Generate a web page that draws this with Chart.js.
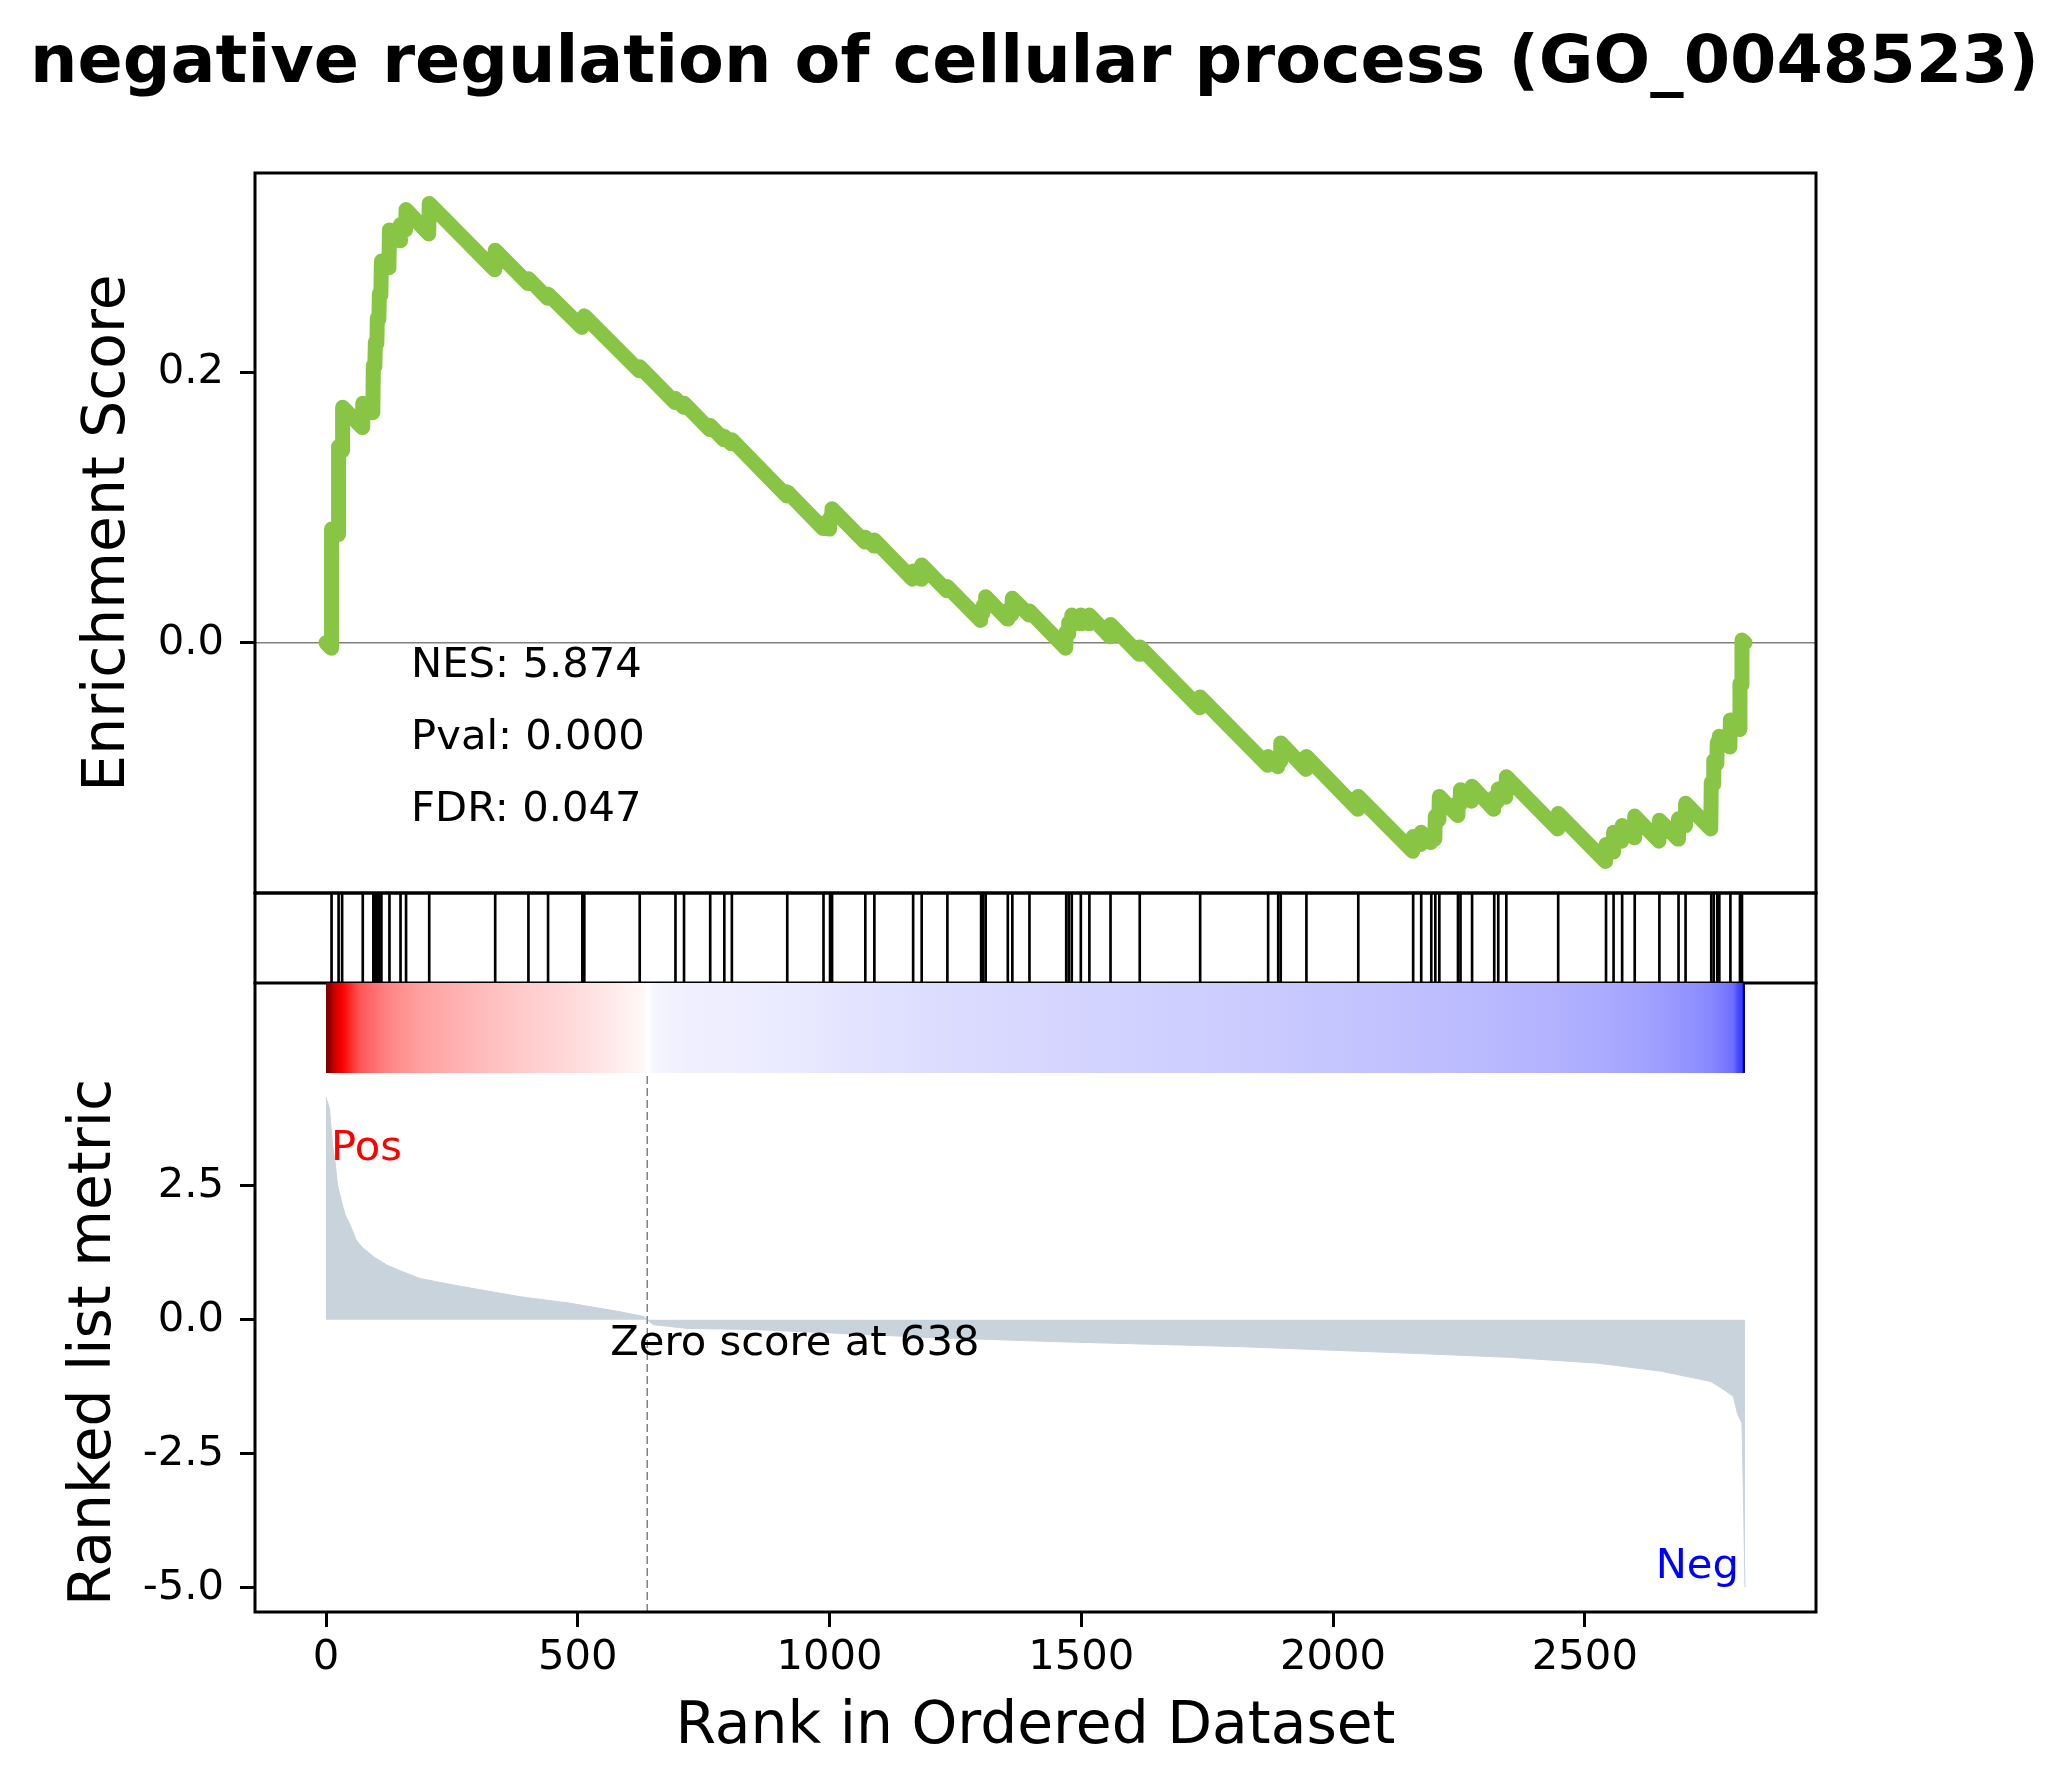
<!DOCTYPE html>
<html>
<head>
<meta charset="utf-8">
<title>GSEA enrichment plot</title>
<script src="https://cdn.jsdelivr.net/npm/chart.js@4.4.1/dist/chart.umd.min.js"></script>
<style>
  html, body { margin: 0; padding: 0; background: #fff; }
  #page { position: relative; width: 2069px; height: 1786px; overflow: hidden; background: #fff; }
  #page canvas { position: absolute; left: 0; }
</style>
</head>
<body>
<div id="page">
  <canvas id="esChart" width="2069" height="940" style="top:0px"></canvas>
  <canvas id="hitChart" width="2069" height="115" style="top:880px"></canvas>
  <canvas id="rankChart" width="2069" height="816" style="top:970px"></canvas>
</div>
<script>
// Values

const titleText = 'negative regulation of cellular process (GO_0048523)';
const xTicks = [0, 500, 1000, 1500, 2000, 2500];
const esTicks = [0.0, 0.2];
const metricTicks = [2.5, 0.0, -2.5, -5.0];
const statLabels = ['NES: 5.874', 'Pval: 0.000', 'FDR: 0.047'];
const zeroScoreRank = 638;

// axis limits (matplotlib 5% margins)
const xLimits = [-141, 2959];
const esLimits = [-0.1848, 0.347];
const metricLimits = [-5.45, 4.604];

// ranks of the gene set members (hit strip)
const hitRanks = [
  11, 25, 32, 73, 94, 98, 102, 106, 110, 126, 148, 159, 205, 336, 402, 441,
  509, 513, 623, 694, 711, 763, 791, 806, 916, 988, 1001, 1005, 1071, 1089,
  1166, 1183, 1234, 1301, 1305, 1310, 1354, 1363, 1397, 1470, 1475, 1481,
  1499, 1516, 1558, 1616, 1736, 1871, 1891, 1896, 1947, 2050, 2159, 2175,
  2195, 2203, 2211, 2248, 2253, 2276, 2320, 2328, 2344, 2447, 2542, 2557,
  2574, 2599, 2648, 2686, 2700, 2751, 2756, 2763, 2767, 2789, 2808, 2812
];

// running enrichment score: [rank, ES] at the corners of the curve
const esPoints = [
  [0, 0.000], [10, -0.004], [11, 0.084], [24, 0.080], [25, 0.145], [32, 0.142],
  [33, 0.174], [72, 0.159], [73, 0.177], [93, 0.170], [94, 0.205], [97, 0.204],
  [98, 0.222], [101, 0.221], [102, 0.240], [105, 0.239], [106, 0.258], [109, 0.257],
  [110, 0.282], [125, 0.277], [126, 0.305], [147, 0.297], [148, 0.309], [158, 0.305],
  [159, 0.320], [204, 0.302], [205, 0.3245], [335, 0.2755], [336, 0.290], [401, 0.2655],
  [402, 0.269], [440, 0.2545], [441, 0.2575], [508, 0.233], [509, 0.2375], [512, 0.2365],
  [513, 0.2415], [622, 0.201], [623, 0.204], [693, 0.1775], [694, 0.1805], [710, 0.174],
  [711, 0.177], [762, 0.1575], [763, 0.1605], [790, 0.150], [791, 0.1525], [805, 0.147],
  [806, 0.150], [915, 0.1085], [916, 0.1115], [987, 0.0845], [988, 0.0885], [1000, 0.084],
  [1001, 0.0925], [1004, 0.0915], [1005, 0.099], [1070, 0.0745], [1071, 0.078], [1088, 0.0715],
  [1089, 0.076], [1165, 0.047], [1166, 0.053], [1182, 0.047], [1183, 0.0575], [1233, 0.0385],
  [1234, 0.0415], [1300, 0.0165], [1301, 0.023], [1304, 0.0215], [1305, 0.0275], [1309, 0.026],
  [1310, 0.034], [1353, 0.0175], [1354, 0.024], [1362, 0.021], [1363, 0.033], [1396, 0.0205],
  [1397, 0.0235], [1469, -0.004], [1470, 0.008], [1474, 0.0065], [1475, 0.015], [1480, 0.013],
  [1481, 0.0205], [1498, 0.014], [1499, 0.0205], [1515, 0.014], [1516, 0.0205], [1557, 0.0045],
  [1558, 0.0135], [1615, -0.0085], [1616, -0.003], [1735, -0.048], [1736, -0.040], [1870, -0.0905],
  [1871, -0.084], [1890, -0.0915], [1891, -0.086], [1895, -0.0875], [1896, -0.074], [1946, -0.0935],
  [1947, -0.084], [2049, -0.123], [2050, -0.1135], [2158, -0.154], [2159, -0.143], [2174, -0.149],
  [2175, -0.140], [2194, -0.1475], [2195, -0.142], [2202, -0.145], [2203, -0.128], [2210, -0.131],
  [2211, -0.1135], [2247, -0.1275], [2248, -0.118], [2252, -0.1195], [2253, -0.1085], [2275, -0.117],
  [2276, -0.106], [2319, -0.123], [2320, -0.114], [2327, -0.117], [2328, -0.108], [2343, -0.114],
  [2344, -0.099], [2446, -0.1375], [2447, -0.126], [2541, -0.1615], [2542, -0.149], [2556, -0.1545],
  [2557, -0.140], [2573, -0.1465], [2574, -0.135], [2598, -0.144], [2599, -0.128], [2647, -0.1465],
  [2648, -0.131], [2685, -0.145], [2686, -0.130], [2699, -0.135], [2700, -0.1185], [2750, -0.1375],
  [2751, -0.103], [2755, -0.1045], [2756, -0.087], [2762, -0.0895], [2763, -0.0735], [2766, -0.0745],
  [2767, -0.069], [2788, -0.077], [2789, -0.057], [2807, -0.064], [2808, -0.030], [2811, -0.031],
  [2812, 0.002], [2818, 0.000]
];

// ranked list metric: [rank, value]
const metricPoints = [
  [0, 4.15], [7, 3.94], [13, 3.26], [18, 2.95], [23, 2.51], [31, 2.20], [38, 1.96],
  [48, 1.77], [60, 1.49], [71, 1.36], [94, 1.18], [121, 1.02], [154, 0.89], [187, 0.77],
  [253, 0.65], [319, 0.54], [386, 0.43], [485, 0.31], [584, 0.15], [632, 0.06], [638, 0.0],
  [650, -0.09], [716, -0.16], [849, -0.18], [1014, -0.25], [1200, -0.33], [1458, -0.41],
  [1814, -0.50], [2171, -0.63], [2349, -0.70], [2527, -0.81], [2652, -0.96], [2750, -1.15],
  [2777, -1.31], [2795, -1.43], [2803, -1.75], [2812, -1.93], [2815, -3.36], [2818, -4.99]
];

// ---- styling ----
Chart.defaults.font.family = "'DejaVu Sans', 'Liberation Sans', sans-serif";
Chart.defaults.color = '#000';

const TICK_FONT = { size: 41.7, lineHeight: 1.2 };
const LABEL_FONT = { size: 58.3, lineHeight: 1.2 };
const AXIS_LEFT = 255;      // left spine x on the page
const RIGHT_PAD = 253;      // 2069 - right spine
const SPINE = 3;
const colorBarHeight = 90;

// matplotlib "seismic" colormap
const seismicStops = [
  [0.00, [0, 0, 76.5]],
  [0.25, [0, 0, 255]],
  [0.50, [255, 255, 255]],
  [0.75, [255, 0, 0]],
  [1.00, [127.5, 0, 0]]
];
function seismic(t) {
  t = Math.min(1, Math.max(0, t));
  for (let i = 1; i < seismicStops.length; i++) {
    const [t0, c0] = seismicStops[i - 1];
    const [t1, c1] = seismicStops[i];
    if (t <= t1) {
      const f = (t - t0) / (t1 - t0);
      return 'rgb(' + c0.map((c, k) => Math.round(c + (c1[k] - c) * f)).join(',') + ')';
    }
  }
  return 'rgb(127,0,0)';
}
const metricMax = Math.max(...metricPoints.map(p => p[1]));
const metricMin = Math.min(...metricPoints.map(p => p[1]));
// midpoint normalisation around zero
function normMetric(v) {
  return v >= 0 ? 0.5 + 0.5 * v / metricMax : 0.5 - 0.5 * v / metricMin;
}

function fixedTicks(values) {
  return (scale) => { scale.ticks = values.map(v => ({ value: v })); };
}

// an axis that only reserves space (keeps the plot box where the reference has it)
function spacer(position, size) {
  return {
    type: 'linear',
    position: position,
    display: true,
    grid: { display: false },
    border: { display: false },
    ticks: { display: false },
    afterFit: (scale) => {
      if (position === 'left' || position === 'right') scale.width = size;
      else scale.height = size;
    }
  };
}

// draws the axes box (spines)
function makeFrame(id, sides, extendTop) {
  return {
    id: id,
    afterDraw(chart) {
      const { ctx, chartArea: a } = chart;
      const top = a.top - (extendTop || 0);
      ctx.save();
      ctx.strokeStyle = '#000';
      ctx.lineWidth = SPINE;
      ctx.lineCap = 'square';
      ctx.beginPath();
      if (sides.includes('top')) { ctx.moveTo(a.left, top); ctx.lineTo(a.right, top); }
      if (sides.includes('bottom')) { ctx.moveTo(a.left, a.bottom); ctx.lineTo(a.right, a.bottom); }
      if (sides.includes('left')) { ctx.moveTo(a.left, top); ctx.lineTo(a.left, a.bottom); }
      if (sides.includes('right')) { ctx.moveTo(a.right, top); ctx.lineTo(a.right, a.bottom); }
      ctx.stroke();
      ctx.restore();
    }
  };
}

const tickGrid = {
  display: true,
  drawOnChartArea: false,
  drawTicks: true,
  tickLength: 15,
  tickWidth: SPINE,
  tickColor: '#000'
};

// ---- Enrichment score panel ----
const statsPlugin = {
  id: 'stats',
  afterDraw(chart) {
    const { ctx, chartArea: a } = chart;
    ctx.save();
    ctx.font = TICK_FONT.size + "px 'DejaVu Sans'";
    ctx.fillStyle = '#000';
    ctx.textAlign = 'left';
    ctx.textBaseline = 'alphabetic';
    const h = a.bottom - a.top;
    statLabels.forEach((txt, i) => {
      const frac = 0.3 - 0.1 * i;
      ctx.fillText(txt, a.left + 0.1 * (a.right - a.left), a.bottom - frac * h);
    });
    ctx.restore();
  }
};

new Chart(document.getElementById('esChart'), {
  type: 'line',
  data: {
    datasets: [
      {
        label: 'Enrichment score',
        data: esPoints.map(p => ({ x: p[0], y: p[1] })),
        xAxisID: 'x',
        yAxisID: 'y',
        borderColor: '#88C544',
        borderWidth: 15,
        borderCapStyle: 'round',
        borderJoinStyle: 'round',
        pointRadius: 0,
        tension: 0,
        fill: false,
        order: 0
      },
      {
        label: 'zero',
        data: [{ x: xLimits[0], y: 0 }, { x: xLimits[1], y: 0 }],
        xAxisID: 'x',
        yAxisID: 'y',
        borderColor: '#808080',
        borderWidth: 1.5,
        pointRadius: 0,
        fill: false,
        order: 1
      }
    ]
  },
  options: {
    responsive: false,
    animation: false,
    devicePixelRatio: 1,
    layout: { autoPadding: false, padding: 0 },
    plugins: {
      legend: { display: false },
      tooltip: { enabled: false },
      title: {
        display: true,
        text: titleText,
        color: '#000',
        font: { size: 66.7, weight: 'bold', lineHeight: 1.2 },
        padding: { top: 25, bottom: 68 }
      }
    },
    scales: {
      x: Object.assign(spacer('bottom', 47), { min: xLimits[0], max: xLimits[1] }),
      y: {
        type: 'linear',
        position: 'left',
        min: esLimits[0],
        max: esLimits[1],
        afterBuildTicks: fixedTicks(esTicks),
        afterFit: (scale) => { scale.width = AXIS_LEFT; },
        grid: tickGrid,
        border: { display: false },
        ticks: { font: TICK_FONT, padding: 16, callback: v => v.toFixed(1) },
        title: { display: true, text: 'Enrichment Score', font: LABEL_FONT, padding: { top: 74, bottom: 0 } }
      },
      rightPad: Object.assign(spacer('right', RIGHT_PAD), { axis: 'y' })
    }
  },
  plugins: [statsPlugin, makeFrame('esFrame', ['top', 'bottom', 'left', 'right'])]
});

// ---- Hit strip ----
new Chart(document.getElementById('hitChart'), {
  type: 'bar',
  data: {
    datasets: [{
      label: 'hits',
      data: hitRanks.map(r => ({ x: r, y: 1 })),
      backgroundColor: '#000',
      borderWidth: 0,
      barThickness: 2
    }]
  },
  options: {
    responsive: false,
    animation: false,
    devicePixelRatio: 1,
    layout: { autoPadding: false, padding: { top: 13, left: AXIS_LEFT, right: RIGHT_PAD, bottom: 12 } },
    plugins: { legend: { display: false }, tooltip: { enabled: false } },
    scales: {
      x: { type: 'linear', offset: false, min: xLimits[0], max: xLimits[1], display: false },
      y: { type: 'linear', min: 0, max: 1, display: false }
    }
  },
  plugins: [makeFrame('hitFrame', ['top', 'bottom', 'left', 'right'])]
});

// ---- Colour bar + ranked list metric ----
const colorBarPlugin = {
  id: 'colorBar',
  beforeDatasetsDraw(chart) {
    const { ctx, chartArea, scales: { x } } = chart;
    const first = metricPoints[0][0];
    const last = metricPoints[metricPoints.length - 1][0];
    const x0 = x.getPixelForValue(first);
    const x1 = x.getPixelForValue(last);
    const grad = ctx.createLinearGradient(x0, 0, x1, 0);
    metricPoints.forEach(([r, v]) => {
      grad.addColorStop((x.getPixelForValue(r) - x0) / (x1 - x0), seismic(normMetric(v)));
    });
    ctx.save();
    ctx.fillStyle = grad;
    ctx.fillRect(x0, chartArea.top - colorBarHeight, x1 - x0, colorBarHeight);
    ctx.restore();
  }
};

const rankTextPlugin = {
  id: 'rankText',
  afterDraw(chart) {
    const { ctx, chartArea: a, scales: { x, y } } = chart;
    const w = a.right - a.left;
    const h = a.bottom - a.top;
    ctx.save();
    ctx.font = TICK_FONT.size + "px 'DejaVu Sans'";
    ctx.textBaseline = 'alphabetic';
    ctx.textAlign = 'left';
    ctx.fillStyle = '#ff0000';
    ctx.fillText('Pos', a.left + 0.05 * w - 2, a.bottom - 0.8386 * h);
    ctx.textAlign = 'right';
    ctx.fillStyle = '#0000ff';
    ctx.fillText('Neg', a.left + 0.95 * w + 1, a.bottom - 0.063 * h);
    ctx.textAlign = 'left';
    ctx.fillStyle = '#000';
    ctx.fillText('Zero score at ' + zeroScoreRank, x.getPixelForValue(zeroScoreRank) - 37, y.getPixelForValue(0) + 35);
    ctx.restore();
  }
};

new Chart(document.getElementById('rankChart'), {
  type: 'line',
  data: {
    datasets: [
      {
        label: 'Ranked list metric',
        data: metricPoints.map(p => ({ x: p[0], y: p[1] })),
        xAxisID: 'x',
        yAxisID: 'y',
        borderColor: '#C9D3DB',
        borderWidth: 1,
        backgroundColor: '#C9D3DB',
        fill: 'origin',
        pointRadius: 0,
        tension: 0,
        order: 1
      },
      {
        label: 'zero score',
        data: [{ x: zeroScoreRank, y: metricLimits[0] }, { x: zeroScoreRank, y: metricLimits[1] }],
        xAxisID: 'x',
        yAxisID: 'y',
        borderColor: '#808080',
        borderWidth: 1.5,
        borderDash: [8, 4],
        pointRadius: 0,
        fill: false,
        order: 0
      }
    ]
  },
  options: {
    responsive: false,
    animation: false,
    devicePixelRatio: 1,
    layout: { autoPadding: false, padding: { top: 103, left: 0, right: 0, bottom: 0 } },
    plugins: { legend: { display: false }, tooltip: { enabled: false } },
    scales: {
      x: {
        type: 'linear',
        min: xLimits[0],
        max: xLimits[1],
        afterBuildTicks: fixedTicks(xTicks),
        afterFit: (scale) => { scale.height = 174; },
        grid: tickGrid,
        border: { display: false },
        ticks: { font: TICK_FONT, padding: 6, maxRotation: 0, callback: v => String(v) },
        title: { display: true, text: 'Rank in Ordered Dataset', font: LABEL_FONT, padding: { top: 0, bottom: 23 } }
      },
      y: {
        type: 'linear',
        position: 'left',
        min: metricLimits[0],
        max: metricLimits[1],
        afterBuildTicks: fixedTicks(metricTicks),
        afterFit: (scale) => { scale.width = AXIS_LEFT; },
        grid: tickGrid,
        border: { display: false },
        ticks: { font: TICK_FONT, padding: 16, callback: v => v.toFixed(1) },
        title: { display: true, text: 'Ranked list metric', font: LABEL_FONT, padding: { top: 60, bottom: 0 } }
      },
      rightPad: Object.assign(spacer('right', RIGHT_PAD), { axis: 'y' })
    }
  },
  plugins: [colorBarPlugin, rankTextPlugin, makeFrame('rankFrame', ['bottom', 'left', 'right'], colorBarHeight)]
});
</script>
</body>
</html>
